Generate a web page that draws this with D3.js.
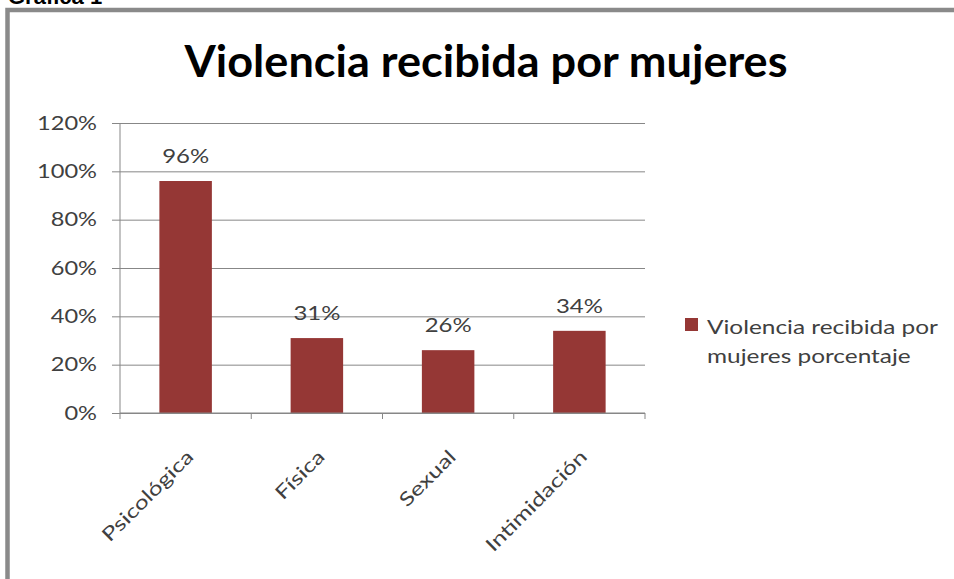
<!DOCTYPE html>
<html lang="es">
<head>
<meta charset="UTF-8">
<title>Violencia recibida por mujeres</title>
<script src="https://d3js.org/d3.v7.min.js"></script>
<style>
    body { margin: 0; background: #fff; }
    svg { display: block; }
    text { font-family: Lato, "Open Sans", sans-serif; fill: #404040; }
</style>
</head>
<body>
<svg id="chart" width="954" height="579"></svg>
<script>
    // data
    const categories = ["Psicológica", "Física", "Sexual", "Intimidación"];
    const values = [0.96, 0.31, 0.26, 0.34];
    const yTicks = [0, 0.2, 0.4, 0.6, 0.8, 1.0, 1.2];
    const seriesName = ["Violencia recibida por", "mujeres porcentaje"];

    const svg = d3.select("#chart");
    const barColor = "#953735";
    const lineColor = "#878787";

    // stretch a text group so a sample element gets the target width
    function stretch(sel, target, sample) {
        const ref = sample ? sample.node() : sel.node();
        const k = target / ref.getComputedTextLength();
        sel.each(function () {
            const w = this.getComputedTextLength();
            d3.select(this).attr("textLength", w * k).attr("lengthAdjust", "spacingAndGlyphs");
        });
    }

    // caption above the frame (mostly cut off)
    svg.append("text")
        .attr("x", 8).attr("y", 4)
        .style("font-family", "'Liberation Sans', Arial, sans-serif")
        .style("font-weight", "bold")
        .style("font-size", "22px")
        .style("fill", "#000")
        .text("Gráfica 1");

    // frame
    svg.append("rect")
        .attr("x", 7.5).attr("y", 10)
        .attr("width", 1000).attr("height", 640)
        .attr("fill", "none")
        .attr("stroke", "#8a8a8a")
        .attr("stroke-width", 4.5);

    // title
    const title = svg.append("text")
        .attr("x", 486).attr("y", 77)
        .attr("text-anchor", "middle")
        .style("font-weight", "bold")
        .style("font-size", "43px")
        .style("fill", "#000")
        .text("Violencia recibida por mujeres");
    stretch(title, 603);

    const x = d3.scaleBand()
        .domain(categories)
        .range([120, 645])
        .paddingInner(0.6)
        .paddingOuter(0.3);

    const y = d3.scaleLinear()
        .domain([0, 1.2])
        .range([413, 123]);

    // gridlines + y axis
    const yAxis = svg.append("g")
        .attr("transform", "translate(120,0)")
        .call(d3.axisLeft(y).tickValues(yTicks).tickFormat(d3.format(".0%")).tickSize(-525).tickPadding(23));
    yAxis.select(".domain").remove();
    yAxis.selectAll(".tick line")
        .attr("x1", -8)
        .attr("stroke", lineColor);
    const yLabels = yAxis.selectAll(".tick text")
        .style("font-size", "19px")
        .style("font-family", "Lato, sans-serif")
        .attr("fill", "#404040");
    // "120%" measured 60px wide in the reference
    stretch(yLabels, 60, yLabels.filter(d => d === 1.2));

    svg.append("line")
        .attr("x1", 120).attr("x2", 120)
        .attr("y1", y(1.2)).attr("y2", y(0))
        .attr("stroke", lineColor);

    // bars
    svg.append("g").selectAll("rect")
        .data(values)
        .join("rect")
        .attr("x", (d, i) => x(categories[i]))
        .attr("y", d => y(d))
        .attr("width", x.bandwidth())
        .attr("height", d => y(0) - y(d))
        .attr("fill", barColor);

    // data labels
    const dataLabels = svg.append("g").selectAll("text")
        .data(values)
        .join("text")
        .attr("x", (d, i) => x(categories[i]) + x.bandwidth() / 2)
        .attr("y", d => y(d) - 18)
        .attr("text-anchor", "middle")
        .style("font-size", "19px")
        .text(d => d3.format(".0%")(d));
    stretch(dataLabels, 47);

    // x axis
    svg.append("line")
        .attr("x1", 120).attr("x2", 645)
        .attr("y1", y(0)).attr("y2", y(0))
        .attr("stroke", lineColor);
    svg.append("g").selectAll("line")
        .data(d3.range(categories.length + 1))
        .join("line")
        .attr("x1", i => 120 + i * x.step())
        .attr("x2", i => 120 + i * x.step())
        .attr("y1", y(0)).attr("y2", y(0) + 6)
        .attr("stroke", lineColor);

    const catLabels = svg.append("g").selectAll("text")
        .data(categories)
        .join("text")
        .attr("transform", d => `translate(${x(d) + x.bandwidth() / 2 + 9},458) rotate(-45)`)
        .attr("text-anchor", "end")
        .style("font-size", "19px")
        .text(d => d);
    stretch(catLabels, 120);

    // legend
    svg.append("rect")
        .attr("x", 685).attr("y", 318)
        .attr("width", 13).attr("height", 13)
        .attr("fill", barColor);
    const legendText = svg.append("g").selectAll("text")
        .data(seriesName)
        .join("text")
        .attr("x", 707)
        .attr("y", (d, i) => 334 + i * 29)
        .style("font-size", "19px")
        .text(d => d);
    stretch(legendText, 231);
</script>
</body>
</html>
